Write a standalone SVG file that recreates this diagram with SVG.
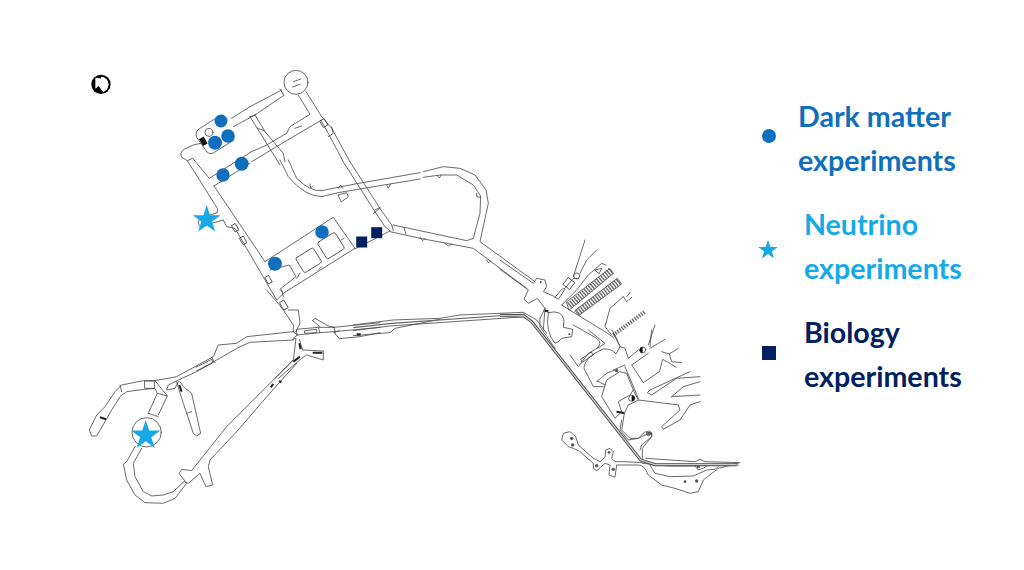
<svg xmlns="http://www.w3.org/2000/svg" width="1024" height="570" viewBox="0 0 1024 570">
<style>
.m{fill:none;stroke:#444;stroke-width:2.4;stroke-linejoin:round;stroke-linecap:round}
.k{fill:none;stroke:#222;stroke-width:6}
.h{fill:none;stroke:#666;stroke-dasharray:4 4}
.l{font-family:"Lato","Carlito","Liberation Sans",sans-serif;font-weight:700;font-size:28.6px}
.dm{fill:#0f6fbe}.nu{fill:#15a9e8}.bi{fill:#002060}
</style>
<rect width="1024" height="570" fill="#fff"/>
<g id="north-arrow" transform="translate(85,70) scale(.3333)">
<circle cx="48" cy="43" r="29" fill="#000"/>
<path d="M48,20 A23,23 0 0 1 71,43 A23,23 0 0 1 62,61 L48,38 Z" fill="#fff"/>
<path d="M31,23 L60,27 L51,37 L67,57 L55,67 L41,48 L31,56 Z" fill="#fff"/>
</g>
<g id="north-end" transform="translate(230,65) scale(.3333)">
<circle class="m" cx="198" cy="52" r="36"/>
<path class="m" d="M190,50 L212,42 M188,66 L210,58"/>
<path class="m" d="M155,75 L60,125 L5,160 M160,92 L75,150 L10,185 M150,72 L162,92"/>
<path class="m" d="M205,90 L240,148 L180,185 L170,205 L110,240 L60,262 M275,165 L190,215 L65,290"/>
<path class="m" d="M228,80 L275,155 L305,190 L360,290 M275,170 L295,205 L345,300 M305,185 L310,205 L295,215"/>
<path class="m" d="M60,155 L150,300 M75,150 L105,200 L160,265 L165,290 M60,155 L75,150 M82,190 L105,198 M195,190 L215,183"/>
<rect class="m" x="275" y="163" width="14" height="22" fill="#777" transform="rotate(-30 282 174)"/>
</g>
<g id="north-labs" transform="translate(80,60) scale(.3333)">
<path class="m" d="M412,172 L360,205 Q343,216 350,232 L378,272 Q386,285 400,279 L462,240"/>
<circle class="m" cx="387" cy="217" r="12"/>
<rect x="362" y="232" width="16" height="24" fill="#111" transform="rotate(-30 370 244)"/>
<path class="m" d="M362,250 L340,255 L312,268 Q298,278 305,292 L322,302 L338,295 L388,355 L510,278"/>
<path class="m" d="M322,302 L412,445 L412,458 L360,475 Q350,490 362,502 L395,490 L430,480 L440,500 L465,505 L590,720"/>
<path class="m" d="M402,378 L510,310 M402,378 L555,605"/>
<path class="m" d="M810,305 L900,445 L935,495 M796,315 L885,455 L915,500 L930,513"/>
<path class="m" d="M690,372 L692,384 L698,378 M775,385 L782,375 L788,385 M920,375 L925,385 L932,372"/>
<path class="m" d="M725,392 Q690,395 650,355 L625,300 M725,410 Q675,410 625,350 L600,300 M725,392 L825,372 L1020,338 M725,410 L775,398 L1020,357"/>
<path class="m" d="M775,405 L800,398 L805,410 L785,425 Z"/>
<path class="m" d="M555,605 L760,472 L825,565 L610,700 L600,688 L648,650 L628,615 L570,630 M610,700 L590,720"/>
<rect class="m" x="655" y="575" width="62" height="52" rx="6" transform="rotate(-32 686 601)"/>
<rect class="m" x="722" y="528" width="62" height="58" rx="6" transform="rotate(-32 753 557)"/>
<path class="m" d="M825,567 L930,513 M880,460 L900,445"/>
<rect class="m" x="460" y="492" width="12" height="22" fill="#777" transform="rotate(-30 466 503)"/>
<rect class="m" x="484" y="530" width="12" height="22" fill="#777" transform="rotate(-30 490 541)"/>
<rect class="m" x="560" y="648" width="12" height="22" fill="#777" transform="rotate(-30 566 659)"/>
<path class="m" d="M650,655 L660,640 M715,630 L725,620 M783,540 L792,535"/>
</g>
<g id="east-loop" transform="translate(360,160) scale(.3333)">
<path class="m" d="M190,35 L250,20 L300,25 L345,45 L378,90 L385,130 L360,245 L525,365"/>
<path class="m" d="M190,52 L240,45 L290,45 L340,75 L362,108 L360,160 L340,235 L320,242 L100,195"/>
<path class="m" d="M90,215 L180,235 L260,250 L340,265 L500,385"/>
<path class="m" d="M95,195 L100,212 M132,203 L138,222 M45,150 L60,142 M180,232 L188,242 L195,235 M255,250 L265,258 L275,252 M380,300 L385,308 L392,303 M350,100 L350,110 L362,112"/>
<path class="m" d="M232,46 L238,54 L244,45"/>
</g>
<g id="west-branches" transform="translate(80,310) scale(.3333)">
<path class="m" d="M640,65 L500,80 L470,100 L415,105 L400,140 L345,170 L290,200 L225,212 L190,212 L125,225 L105,245 L75,290 L50,315 L28,360 L35,378 L50,378 L75,335 L95,300 L120,260 L140,245 L195,238 L225,235 L232,250 L205,310"/>
<path class="m" d="M640,90 L510,97 L480,110 L410,150 L350,185 L295,210 L265,225 L260,240 L285,235 L295,215"/>
<path class="m" d="M262,258 L235,315 M232,250 L262,258 L225,212 M205,310 L235,320"/>
<path class="m" d="M120,225 L125,245 M395,142 L405,158"/>
<rect x="195" y="213" width="28" height="22" fill="#999" class="m"/>
<path class="m" d="M348,172 L395,148 L400,158 L350,182"/>
<circle class="m" cx="200" cy="367" r="44"/>
<path class="m" d="M165,410 L140,455 L130,462 L140,510 L165,555 L195,578 L250,580 L285,565 L320,520 L297,490 L305,478 L335,482 L440,350 L560,230 L640,150"/>
<path class="m" d="M185,415 L160,460 L165,500 L190,545 L215,558 L250,555 L280,545 L312,515 L325,520 L360,490 L378,530 L398,525 L385,470 L390,450 L470,365 L565,255 L650,160"/>
<path class="m" d="M290,215 L305,265 L340,370 L350,378 L362,370 L335,250 L310,230 L300,215 M320,310 L335,305"/>
<path class="k" d="M298,225 L305,245 M60,322 L78,328 M572,232 L580,222 M598,212 L604,218"/>
</g>
<g id="junction" transform="translate(260,290) scale(.3333)">
<path class="m" d="M20,0 L50,35 L70,60 L100,105 L100,125 M65,0 L70,20 M85,60 L115,60 L120,100 L108,125"/>
<rect class="m" x="65" y="32" width="14" height="26" fill="#888" transform="rotate(-30 72 45)"/>
<path class="m" d="M110,118 L175,112 L180,128 L112,135 Z M135,122 L170,118 L170,128 L135,130 Z M100,125 L112,135 M100,145 L112,135"/>
<path class="m" d="M222,112 L360,98 M222,125 L360,112 M180,128 L222,125 M175,112 L222,112 M158,92 L165,85 L205,108 L222,112 M158,92 L180,110"/>
<path class="m" d="M222,112 L226,132 L238,146 L300,140 L360,128 M222,128 L238,122"/>
<path class="m" d="M98,148 L108,145 L100,210 L45,265 M118,148 L128,180 L190,183 L190,210 L140,195 L125,205 L55,265"/>
<path class="k" d="M158,188 L187,188 M100,215 L120,200 M118,160 L122,178"/>
<rect x="290" y="130" width="12" height="7" fill="#111"/>
</g>
<g id="tunnel" transform="translate(360,160) scale(.3333)">
<path class="m" d="M-20,495 L100,480 L240,475 L300,465 L490,457 L530,480 L560,520 M-20,512 L90,498 L500,470"/>
<path class="m" d="M-20,527 L90,518 L105,505 L240,478"/>
<path d="M-20,503 L95,490 L495,462" fill="none" stroke="#666" stroke-width="3.5"/>
</g>
<g id="road" transform="translate(500,230) scale(.3333)">
<path class="m" d="M0,90 L100,160 L110,145 L135,150 L140,170 L130,185 L160,198 M0,118 L85,180 L72,208 L85,220 L112,205 L135,235 L130,300"/>
<circle cx="122" cy="157" r="3" fill="#444"/>
</g>
<g id="cave-north" transform="translate(530,240) scale(.3333)">
<path class="m" d="M165,0 L130,110 M150,100 L170,60 L200,30 M75,172 L95,148 L105,145 L130,115 L145,115 M72,170 L85,178 L105,148 M95,195 L140,150 L175,105 L215,70 L228,75 M195,90 L215,85 L208,100 Z"/>
<circle class="m" cx="140" cy="108" r="9" fill="#aaa"/>
<rect class="m" x="105" y="118" width="24" height="26" fill="#fff" transform="rotate(38 117 131)"/>
<path class="m" d="M110,185 L240,85 L250,100 L118,210 Z M135,212 L262,115 L275,132 L148,225 Z"/>
<path class="h" stroke-width="22" d="M118,197 L244,92"/>
<path class="h" stroke-width="22" d="M142,218 L268,123"/>
<path class="h" stroke-width="12" d="M250,285 L345,215"/>
<path class="m" d="M95,195 L135,220 L225,275 L250,292 M280,170 L240,205 L225,260 L245,285 M305,172 L290,185 L280,170 M300,158 L290,170 M375,255 L355,315"/>
<path class="m" d="M55,218 Q95,208 102,240 L100,262 L128,268 L125,290 L95,295 L85,305 L75,310 Q45,275 55,218"/>
<circle cx="118" cy="283" r="3" fill="#444"/>
<path class="m" d="M130,255 L200,295 Q220,310 200,325 M45,205 L30,235 L30,260 L75,325 M42,210 L55,218"/>
<path class="k" d="M45,212 L55,214"/>
</g>
<g id="cave-middle" transform="translate(570,330) scale(.3333)">
<path class="m" d="M55,0 L105,40 L90,50 L55,70 L40,90 L25,110 L0,75"/>
<rect class="m" x="32" y="76" width="38" height="10" transform="rotate(-35 51 81)"/>
<path class="m" d="M42,112 Q45,80 100,57 Q125,55 138,72 L150,50 L130,10 M42,115 L70,170 L100,170 M82,153 L105,165"/>
<path class="m" d="M105,165 L95,200 L135,265 L155,245 L145,215 L170,200 L180,195 L190,180 L170,130 L150,125 L110,150 L105,165 M80,155 L110,130 L135,120"/>
<path class="m" d="M130,120 L165,105 M140,245 L163,250"/>
<path class="k" d="M140,245 L162,249"/>
<circle cx="140" cy="122" r="5" fill="#555"/>
<path class="m" d="M163,250 L175,225 L205,210 L325,225 L330,240 L275,290 L280,298 L330,270 L360,225 L390,215"/>
<path class="m" d="M163,250 L155,300 L180,325 L205,325 L225,305 L245,310 L245,320 L215,345 L210,360"/>
<path class="m" d="M125,0 L135,15 L150,50 L165,55 L175,85 L205,60 M240,50 L245,0 M240,55 L285,28"/>
<path class="m" d="M235,70 L185,105 L220,158 L268,125 L278,88 L300,100 L318,112 M275,65 L298,72 L325,55 M298,72 L305,95 L335,98"/>
<path class="m" d="M165,110 L205,205 M190,180 L205,210"/>
<path class="m" d="M360,125 L240,180 L232,188 L245,195 L290,165 L320,145 L390,140 M305,200 L390,195 M305,200 L340,170 L390,155"/>
<circle class="m" cx="218" cy="60" r="9" fill="#fff"/><path d="M218,51 A9,9 0 0 0 218,69 Z" fill="#111"/>
<circle class="m" cx="185" cy="205" r="9" fill="#fff"/><path d="M185,196 A9,9 0 0 1 185,214 Z" fill="#111"/>
<circle class="m" cx="236" cy="310" r="7" fill="#888"/>
</g>
<g id="cave-south" transform="translate(555,420) scale(.3333)">
<path class="m" d="M262,128 L205,125 L180,125 L170,115 L175,95 L165,85 L152,90 L150,112 L135,125 L115,115 L70,75 L62,50 L45,35 L25,40 L20,60 L40,80 L55,85 L75,95 L115,130 L115,145 L125,152 L150,130 L165,135 L162,165 L180,172 L185,135 L250,135 Q268,135 280,165 L320,195 L360,205 L405,220 L430,215 L445,180 L490,145 L550,130"/>
<path class="m" d="M285,135 L300,160 L345,170 L415,168 L455,150 L480,148 L490,140"/>
<path class="m" d="M272,115 L420,125 L435,118 L450,125 L555,128 M262,130 L340,138 L420,138 L430,150 L445,145 L460,135 L550,135"/>
<path class="m" d="M200,0 L195,30 L220,60 L250,55 L270,45 L290,38 L290,50 L262,85 L262,115"/>
<g fill="#555"><circle cx="50" cy="55" r="5"/><circle cx="53" cy="75" r="5"/><circle cx="162" cy="97" r="4"/><circle cx="125" cy="137" r="5"/><circle cx="175" cy="148" r="5"/><circle cx="282" cy="40" r="5"/><circle cx="430" cy="140" r="5"/><circle cx="390" cy="185" r="4"/><circle cx="425" cy="183" r="5"/></g>
</g>
<g id="main-tunnel" transform="translate(500,230) scale(.3333)">
<path d="M0,256 L72,258 L95,275 L422,690 L465,704 L710,704" fill="none" stroke="#444" stroke-width="9"/>
<path d="M0,256 L72,258 L95,275 L422,690 L465,704 L710,704" fill="none" stroke="#ccc" stroke-width="4"/>
</g>
<g id="dark-matter-sites">
<circle class="dm" cx="221" cy="121" r="6.5"/><circle class="dm" cx="228" cy="136" r="6.8"/><circle class="dm" cx="215" cy="142.7" r="7"/><circle class="dm" cx="223" cy="175" r="6.7"/><circle class="dm" cx="241.7" cy="163.7" r="7"/><circle class="dm" cx="322" cy="232" r="6.8"/><circle class="dm" cx="275" cy="263.7" r="7"/>
</g>
<g id="biology-sites">
<rect class="bi" x="356.2" y="236.5" width="11" height="11"/><rect class="bi" x="371.2" y="227.2" width="11" height="11"/>
</g>
<g id="neutrino-sites">
<path class="nu" d="M206.7,205 L210,215.2 L220.5,215.2 L212,221.5 L215.2,231.6 L206.7,225.4 L198.2,231.6 L201.4,221.5 L192.9,215.2 L203.4,215.2 Z"/>
<path class="nu" d="M145.7,420 L149.2,430.6 L160.4,430.6 L151.3,437.2 L154.8,447.9 L145.7,441.3 L136.6,447.9 L140.1,437.2 L131,430.6 L142.2,430.6 Z"/>
</g>
<g id="legend">
<circle class="dm" cx="769" cy="136" r="7"/>
<text class="l dm" x="798" y="127">Dark matter</text>
<text class="l dm" x="798" y="171">experiments</text>
<path class="nu" d="M768,240 L770.4,247 L777.8,247 L771.8,251.4 L774.1,258.5 L768,254.1 L761.9,258.5 L764.2,251.4 L758.2,247 L765.6,247 Z"/>
<text class="l nu" x="804" y="235">Neutrino</text>
<text class="l nu" x="804" y="279">experiments</text>
<rect class="bi" x="762" y="346" width="14" height="14"/>
<text class="l bi" x="804" y="343">Biology</text>
<text class="l bi" x="804" y="387">experiments</text>
</g>
</svg>
